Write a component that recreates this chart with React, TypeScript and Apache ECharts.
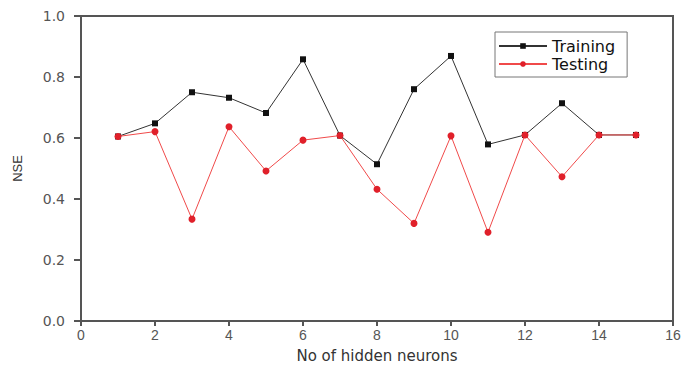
import React, { useEffect, useRef } from "react";
import * as echarts from "echarts";

const neurons = [1, 2, 3, 4, 5, 6, 7, 8, 9, 10, 11, 12, 13, 14, 15];
const training = [0.605, 0.648, 0.75, 0.732, 0.682, 0.858, 0.608, 0.514, 0.76, 0.869, 0.579, 0.61, 0.714, 0.61, 0.61];
const testing = [0.605, 0.621, 0.334, 0.637, 0.492, 0.593, 0.608, 0.432, 0.32, 0.607, 0.291, 0.61, 0.473, 0.61, 0.61];

const FONT = "Liberation Sans, Arial, sans-serif";
const WIDE = "DejaVu Sans, Verdana, sans-serif";

export default function App() {
  const ref = useRef<HTMLDivElement>(null);
  useEffect(() => {
    if (!ref.current) return;
    const chart = echarts.init(ref.current, null, { renderer: "svg" });
    chart.setOption({
      animation: false,
      backgroundColor: "#ffffff",
      textStyle: { fontFamily: FONT },
      grid: {
        left: 81,
        right: 11,
        top: 16,
        bottom: 45,
        outerBoundsMode: "none",
        containLabel: false,
        show: true,
        borderColor: "#555555",
        borderWidth: 2,
        backgroundColor: "transparent",
      },
      legend: {
        left: 495,
        top: 32,
        orient: "vertical",
        itemGap: 0,
        itemWidth: 48,
        itemHeight: 7,
        padding: [5, 12, 4, 3],
        borderColor: "#777777",
        borderWidth: 1,
        borderRadius: 0,
        textStyle: { fontSize: 16, color: "#111", fontFamily: WIDE, lineHeight: 18 },
        data: ["Training", "Testing"],
      },
      xAxis: {
        type: "value",
        min: 0,
        max: 16,
        interval: 2,
        name: "No of hidden neurons",
        nameLocation: "middle",
        nameGap: 27,
        nameTextStyle: { fontSize: 15, color: "#333", fontFamily: WIDE, lineHeight: 16 },
        axisLine: { lineStyle: { color: "#555555", width: 2 } },
        axisTick: { show: true, length: 5, lineStyle: { color: "#555555", width: 2 } },
        axisLabel: { fontSize: 14, color: "#555", margin: 7, fontFamily: FONT },
        splitLine: { show: false },
      },
      yAxis: {
        type: "value",
        min: 0,
        max: 1,
        interval: 0.2,
        name: "NSE",
        nameLocation: "middle",
        nameGap: 57,
        nameRotate: 90,
        nameTextStyle: { fontSize: 13, color: "#333", fontFamily: FONT },
        axisLine: { show: true, lineStyle: { color: "#555555", width: 2 } },
        axisTick: { show: true, length: 7, lineStyle: { color: "#555555", width: 2 } },
        axisLabel: {
          fontSize: 14,
          color: "#555",
          margin: 16,
          fontFamily: WIDE,
          formatter: (v: number) => v.toFixed(1),
        },
        splitLine: { show: false },
      },
      series: [
        {
          name: "Training",
          type: "line",
          data: neurons.map((n, i) => [n, training[i]]),
          symbol: "rect",
          symbolSize: 6,
          itemStyle: { color: "#111111" },
          lineStyle: { color: "#333333", width: 1 },
          z: 2,
        },
        {
          name: "Testing",
          type: "line",
          data: neurons.map((n, i) => [n, testing[i]]),
          symbol: "circle",
          symbolSize: 7,
          itemStyle: { color: "#e0202a" },
          lineStyle: { color: "#f04a4a", width: 1 },
          z: 3,
        },
      ],
    });
    return () => chart.dispose();
  }, []);
  return <div ref={ref} style={{ width: 684, height: 366, position: "absolute", left: 0, top: 0 }} />;
}
